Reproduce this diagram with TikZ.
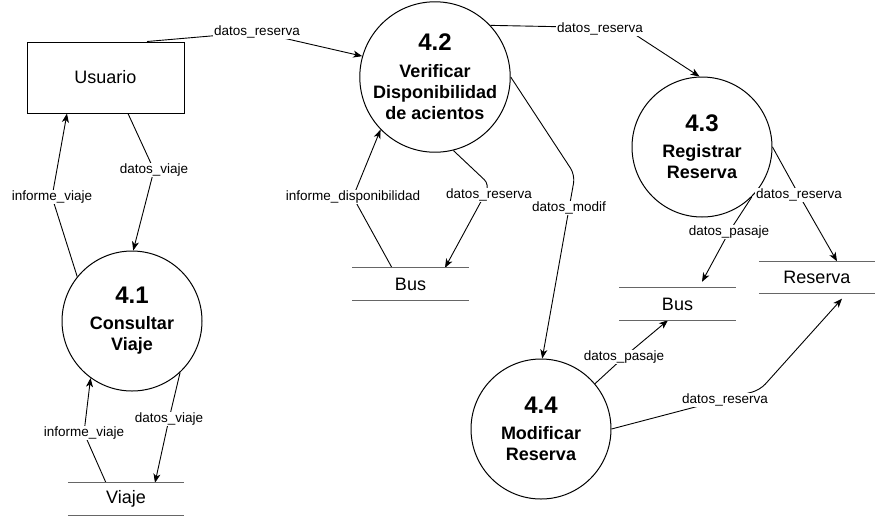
\documentclass[tikz,border=0pt]{standalone}
\usepackage{fontspec}
\setmainfont{Liberation Sans}
\usetikzlibrary{arrows.meta,backgrounds}
\begin{document}
\begin{tikzpicture}[x=1pt,y=-1pt,
 proc/.style={circle,draw,fill=white,line width=1pt,minimum size=140pt,inner sep=0pt,align=center,font=\fontsize{18}{21}\selectfont\bfseries},
 ent/.style={draw,line width=1pt,minimum width=157pt,minimum height=71pt,inner sep=0pt,font=\fontsize{18}{21}\selectfont},
 store/.style={minimum width=116pt,minimum height=32pt,inner sep=0pt,font=\fontsize{18}{21}\selectfont},
 storeline/.style={line width=1.3pt,draw=black!60},
 lbl/.style={fill=white,inner sep=1pt,font=\fontsize{13.5}{15}\selectfont},
 flow/.style={line width=0.9pt,-{Stealth[length=9pt,width=7pt,inset=2.5pt]}},
 num/.style={}
]
\useasboundingbox (0,0) rectangle (887,523);

% external entity
\node[ent] (usr) at (105.5,77.5) {Usuario};

% processes
\node[proc] (p42) at (435,77) {{\fontsize{24}{26}\selectfont 4.2}\\[6pt]Verificar\\Disponibilidad\\de acientos};
\node[proc] (p43) at (702,147) {{\fontsize{24}{26}\selectfont 4.3}\\[5pt]Registrar\\Reserva};
\node[proc] (p41) at (132,321) {{\fontsize{24}{26}\selectfont 4.1}\\[5pt]Consultar\\Viaje};
\node[proc] (p44) at (541,429) {{\fontsize{24}{26}\selectfont 4.4}\\[5pt]Modificar\\Reserva};

% data stores
\node[store] (bus1) at (410.5,284) {Bus};
\node[store] (viaje) at (126,499) {Viaje};
\node[store] (bus2) at (677.5,304) {Bus};
\node[store] (res) at (817,277.5) {Reserva};
\foreach \s in {bus1,viaje,bus2,res}{
  \draw[storeline] (\s.north west) -- (\s.north east) (\s.south west) -- (\s.south east);
}

% labels
\node[lbl] (l1) at (257,32) {datos\_reserva};
\node[lbl] (l2) at (154,170) {datos\_viaje};
\node[lbl] (l3) at (52,197) {informe\_viaje};
\node[lbl] (l4) at (353,197) {informe\_disponibilidad};
\node[lbl] (l5) at (489,195) {datos\_reserva};
\node[lbl] (l6) at (569,208) {datos\_modif};
\node[lbl] (l7) at (600,29) {datos\_reserva};
\node[lbl] (l8) at (799,195) {datos\_reserva};
\node[lbl] (l9) at (729,232) {datos\_pasaje};
\node[lbl] (l10) at (624,357) {datos\_pasaje};
\node[lbl] (l11) at (725,400) {datos\_reserva};
\node[lbl] (l12) at (169,419) {datos\_viaje};
\node[lbl] (l13) at (84,433) {informe\_viaje};

% bend points
\coordinate (b5) at (490,185);
\coordinate (b6) at (575,175);
\coordinate (b7) at (625,28);
\coordinate (b11) at (760,390);

\begin{pgfonlayer}{background}
\draw[flow] ([xshift=41.5pt]usr.north) -- (l1.center) -- (p42.164);
\draw[flow] ([xshift=22.5pt]usr.south) -- (l2.center) -- (p41.89);
\draw[flow] (p41.141) -- (l3.center) -- ([xshift=-38.5pt]usr.south);
\draw[flow] ([xshift=-18.5pt]bus1.north) -- (l4.center) -- (p42.224);
\draw[flow,rounded corners=8pt] (p42.284) -- (b5) -- ([xshift=34.5pt]bus1.north);
\draw[flow,rounded corners=8pt] (p42.east) -- (b6) -- (p44.89);
\draw[flow] (p42.43) -- (b7) -- (p43.92);
\draw[flow] (p43.east) -- (l8.center) -- ([xshift=20pt]res.north);
\draw[flow] (p43.315) -- (l9.center) -- ([xshift=24.5pt,yshift=6pt]bus2.north);
\draw[flow] (p44.40) -- (l10.center) -- ([xshift=-9.5pt]bus2.south);
\draw[flow,rounded corners=8pt] (p44.east) -- (b11) -- ([xshift=25pt,yshift=-5pt]res.south);
\draw[flow] (p41.313) -- (l12.center) -- ([xshift=29pt]viaje.north);
\draw[flow] ([xshift=-20pt]viaje.north) -- (l13.center) -- (p41.234);
\end{pgfonlayer}
\end{tikzpicture}
\end{document}
